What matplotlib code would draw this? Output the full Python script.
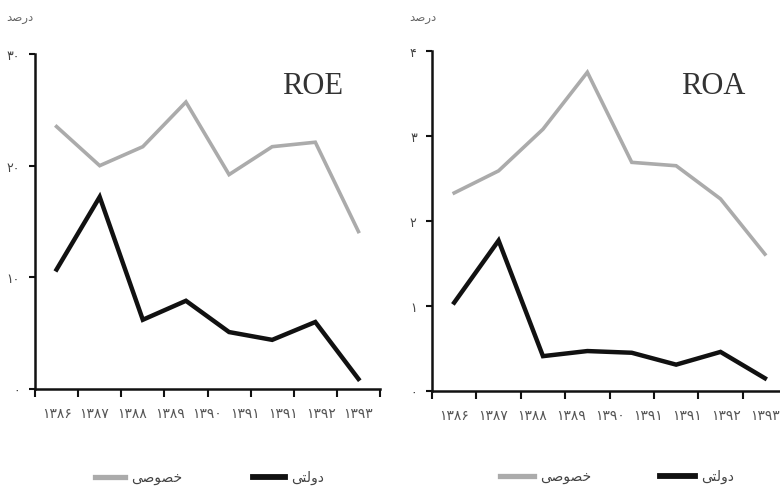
import matplotlib
matplotlib.use("Agg")
import matplotlib.pyplot as plt
from matplotlib.lines import Line2D
import numpy as np

plt.rcParams['font.family'] = ['DejaVu Sans']

# ---- data ----
years_fa = ['۱۳۸۶', '۱۳۸۷', '۱۳۸۸', '۱۳۸۹', '۱۳۹۰', '۱۳۹۱', '۱۳۹۱', '۱۳۹۲', '۱۳۹۳']
roe_private = [23.5, 20.0, 21.7, 25.7, 19.2, 21.7, 22.1, 14.1]
roe_state = [10.7, 17.2, 6.2, 7.9, 5.1, 4.4, 6.0, 0.9]
roa_private = [2.33, 2.59, 3.08, 3.75, 2.69, 2.65, 2.26, 1.61]
roa_state = [1.04, 1.77, 0.41, 0.47, 0.45, 0.31, 0.46, 0.15]
roe_yticks = [0, 10, 20, 30]
roe_ylabels = ['۰', '۱۰', '۲۰', '۳۰']
roa_yticks = [0, 1, 2, 3, 4]
roa_ylabels = ['۰', '۱', '۲', '۳', '۴']

# visual-order Persian strings (presentation forms)
unit_label = '\uFEAA\uFEBB\uFEAD\uFEA9'          # درصد
private_label = '\uFEF0\uFEBB\uFEEE\uFEBC\uFEA7'  # خصوصی
state_label = '\uFEF0\uFE98\uFEDF\uFEED\uFEA9'    # دولتی

GRAY = '#ababab'
BLACK = '#111111'

W, H = 780, 489
fig = plt.figure(figsize=(W / 100, H / 100), dpi=100)


def make_axes(x0, x1, ytop, ybot):
    return fig.add_axes([x0 / W, (H - ybot) / H, (x1 - x0) / W, (ybot - ytop) / H])


def style(ax, xmax, ymax, yticks, ylabels, priv, state):
    n = len(priv)
    x = np.arange(n)
    ax.plot(x, priv, color=GRAY, lw=2.6, solid_joinstyle='miter', clip_on=False)
    ax.plot(x, state, color=BLACK, lw=3.2, solid_joinstyle='miter', clip_on=False)
    ax.set_xlim(-0.5, xmax)
    ax.set_ylim(0, ymax)
    for s in ['top', 'right']:
        ax.spines[s].set_visible(False)
    for s in ['left', 'bottom']:
        ax.spines[s].set_linewidth(1.8)
        ax.spines[s].set_color('#111111')
    ax.xaxis.remove_overlapping_locs = False
    major = np.arange(-0.5, n + 0.5, 1.0)
    ax.set_xticks(major[major <= xmax + 1e-9])
    ax.set_xticklabels([])
    ax.set_xticks(np.linspace(0, n - 1, len(years_fa)), minor=True)
    ax.set_xticklabels(years_fa, minor=True, fontsize=10, color='#555555')
    ax.tick_params(axis='x', which='major', direction='out', length=6, width=1.5, color='#111111')
    ax.tick_params(axis='x', which='minor', length=0, pad=12)
    ax.set_yticks(yticks)
    ax.set_yticklabels(ylabels, fontsize=9, color='#444444')
    ax.tick_params(axis='y', direction='out', length=4, width=1.5, pad=7, color='#111111')


axL = make_axes(35, 380, 55, 390)
style(axL, 7.5, 30, roe_yticks, roe_ylabels, roe_private, roe_state)
axR = make_axes(432, 780, 52, 392)
style(axR, 7.34, 4, roa_yticks, roa_ylabels, roa_private, roa_state)

# titles inside panels
fig.text(313 / W, 1 - 86 / H, 'ROE', family='Liberation Serif', fontsize=22,
         color='#333333', ha='center', va='center')
fig.text(713 / W, 1 - 86 / H, 'ROA', family='Liberation Serif', fontsize=22,
         color='#333333', ha='center', va='center')

# unit labels
fig.text(20 / W, 1 - 17 / H, unit_label, fontsize=8.5, color='#666666', ha='center', va='center')
fig.text(423 / W, 1 - 17 / H, unit_label, fontsize=8.5, color='#666666', ha='center', va='center')

# legends
def legend_at(gx0, gx1, gtx, bx0, bx1, btx, y):
    yf = 1 - y / H
    fig.add_artist(Line2D([gx0 / W, gx1 / W], [yf, yf], color=GRAY, lw=3.8))
    fig.text(gtx / W, yf, private_label, fontsize=10, color='#444444', ha='left', va='center')
    fig.add_artist(Line2D([bx0 / W, bx1 / W], [yf, yf], color=BLACK, lw=4.2))
    fig.text(btx / W, yf, state_label, fontsize=10, color='#444444', ha='left', va='center')

legend_at(95, 125, 131, 253, 285, 291, 478)
legend_at(500, 534, 540, 660, 695, 701, 477)

fig.savefig('out.png', dpi=100)
